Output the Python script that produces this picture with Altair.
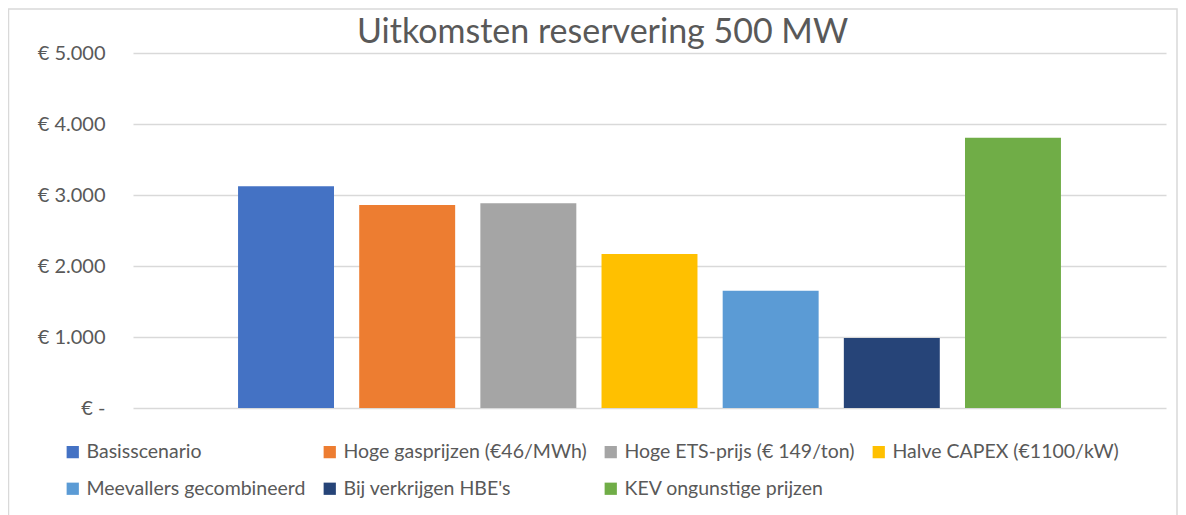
import altair as alt
import pandas as pd

categories = [
    "Basisscenario",
    "Hoge gasprijzen (€46/MWh)",
    "Hoge ETS-prijs (€ 149/ton)",
    "Halve CAPEX (€1100/kW)",
    "Meevallers gecombineerd",
    "Bij verkrijgen HBE's",
    "KEV ongunstige prijzen",
]
values = [3125, 2860, 2885, 2170, 1650, 985, 3805]
colors = ["#4472C4", "#ED7D31", "#A5A5A5", "#FFC000", "#5B9BD5", "#264478", "#70AD47"]
y_ticks = [0, 1000, 2000, 3000, 4000, 5000]

df = pd.DataFrame({"scenario": categories, "waarde": values})

FONT = "Lato"
GREY = "#595959"
W, H = 1033, 355

bars = alt.Chart(df).mark_bar().encode(
    x=alt.X("scenario:N", sort=categories, axis=None,
            scale=alt.Scale(paddingInner=0.208, paddingOuter=0.867)),
    y=alt.Y("waarde:Q",
            scale=alt.Scale(domain=[0, 5000], nice=False),
            axis=alt.Axis(values=y_ticks, title=None, domain=False, ticks=False,
                          gridColor="#D9D9D9", gridWidth=1.3,
                          labelFont=FONT, labelFontSize=20, labelColor=GREY,
                          labelPadding=28,
                          labelExpr="datum.value == 0 ? '€ -\u00a0\u00a0\u00a0' : '€ ' + replace(format(datum.value, ','), ',', '.')")),
    color=alt.Color("scenario:N", sort=categories,
                    scale=alt.Scale(domain=categories, range=colors),
                    legend=alt.Legend(title=None, orient="none", legendX=-70, legendY=389,
                                      columns=4, direction="horizontal",
                                      symbolType="square", symbolSize=150,
                                      symbolStrokeWidth=0, labelFont=FONT,
                                      labelFontSize=19.5, labelColor=GREY,
                                      labelLimit=400, columnPadding=14,
                                      rowPadding=16, labelOffset=4)),
)

frame = alt.Chart(alt.Data(values=[{"f": 1}])).mark_rect(
    fill=None, stroke="#D9D9D9", strokeWidth=1.5
).encode(
    x=alt.value(-124.5), x2=alt.value(1044), y=alt.value(-44), y2=alt.value(H + 120)
)

chart = alt.layer(frame, bars).properties(
    width=W, height=H,
    title=alt.Title("Uitkomsten reservering 500 MW", font=FONT, fontSize=34,
                    fontWeight="normal", color=GREY, anchor="middle", dx=-47,
                    baseline="alphabetic", offset=0, dy=69, frame="group"),
    autosize=alt.AutoSizeParams(type="none"),
    padding={"left": 125, "top": 45, "right": 12, "bottom": 107},
).configure_view(stroke=None)

chart.save("out.html", embed_options={"renderer": "svg", "actions": False})
